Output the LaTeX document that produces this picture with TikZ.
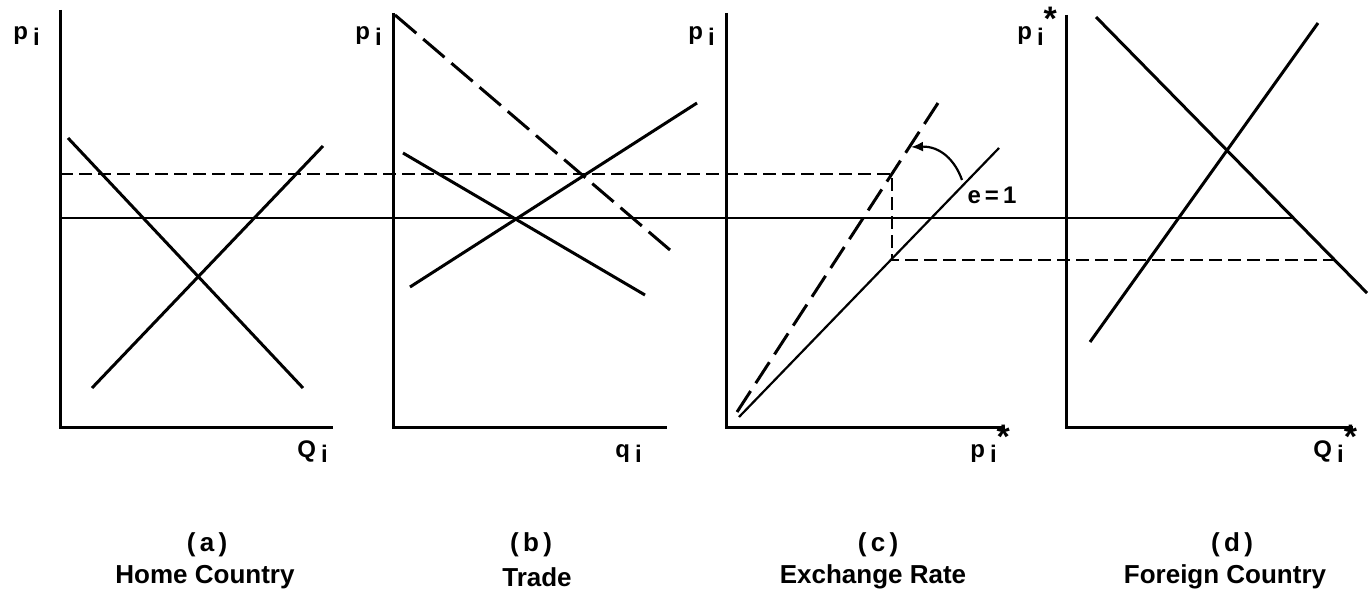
\documentclass[tikz,border=0pt]{standalone}
\usepackage{fontspec}
\setmainfont{Liberation Sans}
\usetikzlibrary{arrows.meta}
\newcommand{\lowi}{\hspace{2.5pt}\raisebox{-2.5pt}{i}}
\newcommand{\astk}{\raisebox{4.5pt}{\fontsize{17}{17}\selectfont\bfseries *}}
\begin{document}
\begin{tikzpicture}[x=0.5pt,y=-0.5pt,
  axis/.style={line width=1.5pt},
  curve/.style={line width=1.5pt},
  thinline/.style={line width=1.1pt},
  shortdash/.style={line width=1.1pt, dash pattern=on 6.5pt off 3pt},
  longdash/.style={line width=1.5pt, dash pattern=on 14pt off 4.54pt},
  lab/.style={font=\fontsize{12}{12}\selectfont\bfseries, inner sep=0pt, anchor=base west},
  captext/.style={font=\fontsize{13}{16}\selectfont\bfseries, inner sep=0pt, align=center},
]
\useasboundingbox (0,0) rectangle (1370,599);
% axes
\coordinate (aT) at (60,10);   \coordinate (aO) at (60,427);   \coordinate (aR) at (333,427);
\coordinate (bT) at (393,13);  \coordinate (bO) at (393,427);  \coordinate (bR) at (667,427);
\coordinate (cT) at (726,13);  \coordinate (cO) at (726,427);  \coordinate (cR) at (1005,427);
\coordinate (dT) at (1066,15); \coordinate (dO) at (1066,427); \coordinate (dR) at (1353,427);
\draw[axis] (aT) -- (aO) -- (aR);
\draw[axis] (bT) -- (bO) -- (bR);
\draw[axis] (cT) -- (cO) -- (cR);
\draw[axis] (dT) -- (dO) -- (dR);
% panel (a)
\coordinate (aD1) at (68,138);  \coordinate (aD2) at (303,388);
\coordinate (aS1) at (92,388);  \coordinate (aS2) at (323,146);
\draw[curve] (aD1) -- (aD2);
\draw[curve] (aS1) -- (aS2);
% panel (b)
\coordinate (bX1) at (395,15);  \coordinate (bX2) at (670,250);
\coordinate (bD1) at (403,153); \coordinate (bD2) at (645,295);
\coordinate (bS1) at (410,287); \coordinate (bS2) at (697,103);
\draw[longdash] (bX1) -- (bX2);
\draw[curve] (bD1) -- (bD2);
\draw[curve] (bS1) -- (bS2);
% panel (c)
\coordinate (cE1) at (739,417); \coordinate (cE2) at (999,148);
\coordinate (cF1) at (737,412); \coordinate (cF2) at (938,103);
\draw[thinline] (cE1) -- (cE2);
\draw[longdash, dash pattern=on 12.5pt off 4.68pt] (cF1) -- (cF2);
% panel (d)
\coordinate (dD1) at (1096,17); \coordinate (dD2) at (1367,293);
\coordinate (dS1) at (1090,342); \coordinate (dS2) at (1318,23);
\draw[curve] (dD1) -- (dD2);
\draw[curve] (dS1) -- (dS2);
% linking lines
\coordinate (hS1) at (60,218);  \coordinate (hS2) at (1293,218);
\coordinate (hT1) at (60,174);  \coordinate (hT2) at (892,174);
\coordinate (hL1) at (892,260); \coordinate (hL2) at (1335,260);
\draw[thinline] (hS1) -- (hS2);
\draw[shortdash] (hT1) -- (hT2) -- (hL1) -- (hL2);
% rotation arrow
\coordinate (arS) at (962,180); \coordinate (arE) at (911,147);
\draw[thinline, -{Latex[length=6pt,width=5pt]}] (arS) .. controls (955,160) and (940,146) .. (arE);
\node[font=\fontsize{12}{12}\selectfont\bfseries, inner sep=0pt] (elab) at (992,195) {e\,=\,1};
% axis labels
\node[lab] (la1) at (13,40) {p\lowi};
\node[lab] (lb1) at (355,40) {p\lowi};
\node[lab] (lc1) at (688,40) {p\lowi};
\node[lab] (ld1) at (1017,40) {p\lowi\astk};
\node[lab] (la2) at (297,457) {Q\lowi};
\node[lab] (lb2) at (615,457) {q\lowi};
\node[lab] (lc2) at (970,457) {p\lowi\astk};
\node[lab] (ld2) at (1313,457) {Q\lowi\astk};
% captions
\node[captext] (ca) at (207,545) {(\,a\,)};
\node[captext] (cb) at (531,545) {(\,b\,)};
\node[captext] (cc) at (878,545) {(\,c\,)};
\node[captext] (cd) at (1232,545) {(\,d\,)};
\node[captext] (na) at (205,577) {Home Country};
\node[captext] (nb) at (537,577) {Trade};
\node[captext] (nc) at (873,577) {Exchange Rate};
\node[captext] (nd) at (1225,577) {Foreign Country};
\end{tikzpicture}
\end{document}
